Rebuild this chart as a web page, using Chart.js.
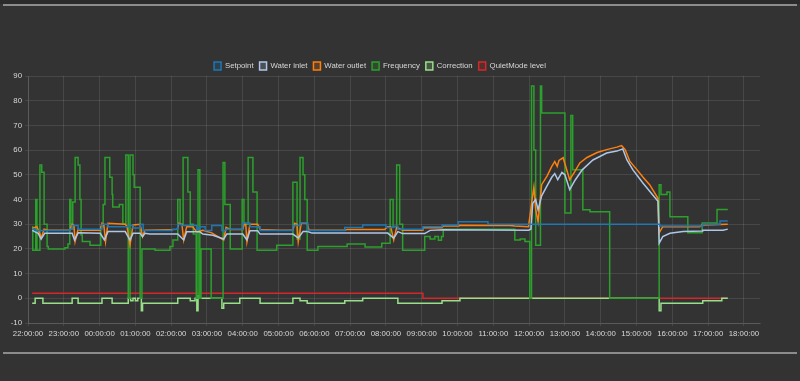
<!DOCTYPE html>
<html>
<head>
<meta charset="utf-8">
<script src="https://cdn.jsdelivr.net/npm/chart.js@4.4.1/dist/chart.umd.min.js"></script>
<style>
  html, body { margin: 0; padding: 0; background: #333; }
  #wrap { position: relative; width: 800px; height: 381px; overflow: hidden; background: #333; }
  .strip { position: absolute; left: 0; top: 0; width: 800px; height: 4px; background: #2b2b2b; }
  .rule { position: absolute; left: 3px; right: 3px; height: 2px; background: #8c8c8c; }
  #chartBox { position: absolute; left: 0; top: 0; width: 800px; height: 381px; }
</style>
</head>
<body>
<div id="wrap">
  <div class="strip"></div>
  <div class="rule" style="top:4px"></div>
  <div class="rule" style="top:352px"></div>
  <div id="chartBox"><canvas id="heatpumpChart"></canvas></div>
</div>
<script>
// series: [time, value]
const setpoint = [
    ['22:07', 28], ['22:12', 27.5], ['23:10', 28], ['23:14', 29.5], ['23:24', 28],
    ['00:04', 30], ['00:14', 29], ['00:48', 29.5], ['00:56', 28.5], ['01:08', 30], ['01:13', 27.5],
    ['02:02', 28], ['02:11', 30], ['02:17', 29.5], ['02:43', 28], ['02:48', 29], ['02:57', 27.5],
    ['03:08', 29.5], ['03:25', 27.5], ['03:32', 28], ['04:00', 30.5], ['04:12', 29], ['04:29', 27.5],
    ['05:24', 29.5], ['05:36', 30.5], ['05:49', 27.5], ['06:51', 28.7], ['07:21', 29.7], ['08:00', 28.7],
    ['08:12', 29.2], ['08:20', 28], ['09:02', 29], ['09:34', 29.7], ['10:01', 31], ['10:51', 30],
    ['15:39', 29.3], ['16:51', 30], ['17:20', 31.3], ['17:33', 31.3]
];

const waterInlet = [
    ['22:07', 27.5], ['22:17', 26.3], ['22:22', 24], ['22:28', 26.3], ['23:14', 26.3], ['23:18', 23.6],
    ['23:24', 26.5], ['00:01', 26.3], ['00:08', 23.6], ['00:14', 27], ['00:43', 27], ['00:51', 23.6],
    ['00:56', 26.3], ['01:08', 26.3], ['01:12', 24.9], ['01:16', 26.3], ['01:24', 26], ['02:11', 26],
    ['02:21', 23.6], ['02:26', 26.9], ['02:48', 26.9], ['02:53', 26], ['03:10', 25.5], ['03:28', 24],
    ['03:33', 26], ['04:00', 26], ['04:07', 23.6], ['04:12', 27.3], ['04:25', 27.3], ['04:29', 26],
    ['05:24', 26], ['05:33', 24.4], ['05:41', 27], ['05:49', 27], ['05:56', 26.4], ['08:03', 26.4],
    ['08:13', 24.4], ['08:20', 27], ['08:28', 26.2], ['09:05', 26.2], ['09:14', 27.5], ['09:36', 27.8],
    ['11:59', 27.6], ['12:03', 28], ['12:06', 38.5], ['12:11', 40], ['12:15', 35.8], ['12:21', 41.5],
    ['12:30', 45.5], ['12:38', 49], ['12:43', 50.5], ['12:48', 48], ['12:55', 51], ['13:00', 50],
    ['13:08', 44], ['13:17', 47.8], ['13:29', 52], ['13:47', 56], ['14:10', 58.8], ['14:27', 59.6],
    ['14:37', 60.5], ['14:44', 56], ['14:54', 52], ['15:11', 46.6], ['15:36', 39.3], ['15:38', 22.3],
    ['15:44', 25], ['15:56', 26.3], ['16:18', 27], ['16:50', 27.2], ['16:51', 27.6], ['17:25', 27.6],
    ['17:33', 28]
];

const waterOutlet = [
    ['22:07', 28.3], ['22:15', 29], ['22:20', 26], ['22:22', 24.3], ['22:27', 28], ['22:34', 27.6],
    ['23:10', 27.6], ['23:14', 30], ['23:17', 29.5], ['23:19', 23], ['23:24', 28], ['23:27', 27.6],
    ['00:01', 27.6], ['00:04', 30.4], ['00:07', 30], ['00:10', 23], ['00:14', 30.4], ['00:43', 30],
    ['00:46', 29], ['00:51', 21.5], ['00:56', 29.7], ['01:08', 30], ['01:12', 25], ['01:16', 27.6],
    ['02:10', 27.9], ['02:13', 30.4], ['02:18', 30], ['02:21', 23.6], ['02:26', 29], ['02:36', 29],
    ['02:43', 26.9], ['02:53', 27.5], ['03:08', 26.5], ['03:22', 24.5], ['03:28', 23.6], ['03:32', 28.7],
    ['03:39', 27.9], ['04:00', 27.9], ['04:03', 30.4], ['04:05', 30], ['04:07', 22.9], ['04:12', 30],
    ['04:25', 30], ['04:29', 27.9], ['05:02', 27.6], ['05:24', 27.6], ['05:27', 30.4], ['05:31', 30],
    ['05:33', 22.9], ['05:38', 30.4], ['05:48', 30.4], ['05:51', 27.6], ['06:51', 27.6], ['06:55', 27.9],
    ['07:58', 27.9], ['08:03', 29], ['08:08', 29], ['08:13', 23.6], ['08:18', 28.7], ['08:28', 27.6],
    ['09:02', 27.6], ['09:03', 28.6], ['09:34', 28.6], ['09:36', 29.3], ['10:01', 29.3], ['10:02', 29.6],
    ['11:28', 29.5], ['11:36', 29.3], ['11:59', 29], ['12:05', 40], ['12:08', 45], ['12:11', 36],
    ['12:15', 31], ['12:21', 46], ['12:30', 49.5], ['12:38', 53.4], ['12:43', 55.4], ['12:47', 53.4],
    ['12:50', 55.8], ['12:57', 56.9], ['13:00', 54.5], ['13:08', 48], ['13:17', 51.5], ['13:25', 54.8],
    ['13:37', 57], ['13:54', 59], ['14:10', 60.2], ['14:27', 61.2], ['14:35', 61.8], ['14:41', 60.2],
    ['14:49', 55.4], ['15:01', 52], ['15:11', 49], ['15:22', 46], ['15:36', 40.5], ['15:38', 26.5],
    ['15:44', 29], ['16:46', 29], ['16:50', 29.7], ['17:33', 30]
];

const frequency = [
    ['22:07', 29], ['22:08', 19.5], ['22:13', 40], ['22:15', 19.5], ['22:20', 54], ['22:23', 51],
    ['22:27', 30], ['22:32', 21], ['22:34', 20], ['23:02', 20.5], ['23:07', 22], ['23:10', 40],
    ['23:12', 28], ['23:15', 39], ['23:19', 57], ['23:24', 54], ['23:27', 40], ['23:29', 25.6],
    ['23:31', 23], ['23:44', 21.5], ['00:02', 29], ['00:06', 38], ['00:09', 57], ['00:17', 49],
    ['00:21', 42], ['00:22', 37], ['00:33', 38], ['00:39', 30], ['00:44', 58], ['00:48', 0],
    ['00:51', 58], ['00:56', 50], ['00:58', 45], ['01:08', 0], ['01:11', 20], ['01:33', 19.5],
    ['01:58', 21], ['02:03', 23.6], ['02:11', 40], ['02:15', 30], ['02:20', 57], ['02:28', 43],
    ['02:32', 30], ['02:37', 26], ['02:42', 0], ['02:45', 52], ['02:48', 0], ['02:50', 20],
    ['03:07', 0], ['03:27', 55], ['03:30', 38], ['03:39', 20], ['03:59', 40], ['04:02', 30],
    ['04:09', 57], ['04:17', 43], ['04:24', 19.5], ['04:57', 21.5], ['05:24', 47], ['05:31', 24],
    ['05:36', 57], ['05:41', 50], ['05:44', 40], ['05:48', 19.5], ['06:06', 21], ['06:55', 22],
    ['07:25', 20.8], ['07:53', 22.3], ['08:07', 40], ['08:12', 29], ['08:18', 54], ['08:23', 30],
    ['08:28', 19.5], ['09:05', 25], ['09:14', 24], ['09:22', 25], ['09:28', 23.5], ['09:33', 25],
    ['09:36', 28], ['11:36', 23.6], ['11:45', 24], ['11:53', 23], ['12:01', 0], ['12:04', 86],
    ['12:08', 60], ['12:11', 21.5], ['12:19', 86], ['12:21', 75], ['13:00', 34.5], ['13:10', 74],
    ['13:13', 52], ['13:30', 35.8], ['13:42', 35], ['14:15', 0], ['15:38', 46], ['15:41', 42],
    ['15:51', 43], ['15:56', 33], ['16:26', 26.5], ['16:50', 30.5], ['17:15', 36], ['17:33', 36]
];

const correction = [
    ['22:07', -2], ['22:12', 0], ['22:25', -2], ['23:14', 0], ['23:24', -2], ['00:04', 0],
    ['00:21', -2], ['00:48', 0], ['00:52', -1], ['00:56', 0], ['01:00', -1], ['01:04', 0],
    ['01:10', -5], ['01:12', -2], ['02:11', 0], ['02:32', -1], ['02:40', 0], ['02:43', -5],
    ['02:45', 1], ['02:48', 0], ['03:25', -4], ['03:28', -2], ['03:55', 0], ['04:29', -2],
    ['05:24', 0], ['05:36', -1], ['05:48', -2], ['06:51', -1], ['07:21', 0], ['08:20', -2],
    ['09:34', -1], ['10:04', 0], ['15:38', -5], ['15:41', -2], ['16:51', -1], ['17:23', 0],
    ['17:33', 0]
];

const quietMode = [['22:07', 2], ['09:02', 0], ['17:33', 0]];

const yTicks = { min: -10, max: 90, step: 10 };
const startHour = 22; // 22:00:00 is the left edge

// 'HH:MM' -> hours since 22:00
function toHours(t) {
    const [h, m] = t.split(':').map(Number);
    return ((h - startHour + 24) % 24) + m / 60;
}

function hourLabel(v) {
    const h = (startHour + Math.round(v)) % 24;
    return String(h).padStart(2, '0') + ':00:00';
}

const points = arr => arr.map(([t, v]) => ({ x: toHours(t), y: v }));

const fontFamily = "'Liberation Sans', Arial, sans-serif";
const gridColor = 'rgba(255,255,255,0.1)';
const textColor = '#d8d8d8';

function series(label, data, color, fillColor, stepped) {
    return {
        label: label,
        data: points(data),
        borderColor: color,
        backgroundColor: fillColor,
        borderWidth: 1.5,
        pointRadius: 0,
        fill: false,
        tension: 0,
        stepped: stepped
    };
}

new Chart(document.getElementById('heatpumpChart'), {
    type: 'line',
    data: {
        datasets: [
            series('Setpoint', setpoint, '#1f77b4', 'rgba(31,119,180,0.2)', true),
            series('Water inlet', waterInlet, '#aec7e8', 'rgba(174,199,232,0.2)', false),
            series('Water outlet', waterOutlet, '#ff7f0e', 'rgba(255,127,14,0.2)', false),
            series('Frequency', frequency, '#2ca02c', 'rgba(44,160,44,0.2)', true),
            series('Correction', correction, '#98df8a', 'rgba(152,223,138,0.2)', true),
            series('QuietMode level', quietMode, '#d62728', 'rgba(214,39,40,0.2)', true)
        ]
    },
    options: {
        responsive: true,
        maintainAspectRatio: false,
        animation: false,
        layout: { padding: { top: 56, right: 40, bottom: 38, left: 0 } },
        plugins: {
            legend: {
                position: 'top',
                maxHeight: 20,
                labels: {
                    color: textColor,
                    font: { size: 7.8, family: fontFamily },
                    boxWidth: 7,
                    boxHeight: 8,
                    padding: 6
                }
            },
            tooltip: { enabled: false }
        },
        scales: {
            x: {
                type: 'linear',
                min: 0,
                max: 20.45,
                afterFit: s => { s.height = 20; },
                grid: { color: gridColor, tickLength: 3 },
                border: { color: gridColor },
                ticks: {
                    stepSize: 1,
                    includeBounds: false,
                    autoSkip: false,
                    maxRotation: 0,
                    padding: 3,
                    color: textColor,
                    font: { size: 7.8, family: fontFamily },
                    callback: v => hourLabel(v)
                }
            },
            y: {
                min: yTicks.min,
                max: yTicks.max,
                afterFit: s => { s.width = 28; },
                grid: { color: gridColor, tickLength: 3 },
                border: { color: gridColor },
                ticks: {
                    stepSize: yTicks.step,
                    padding: 3,
                    color: textColor,
                    font: { size: 7.8, family: fontFamily }
                }
            }
        }
    }
});
</script>
</body>
</html>
